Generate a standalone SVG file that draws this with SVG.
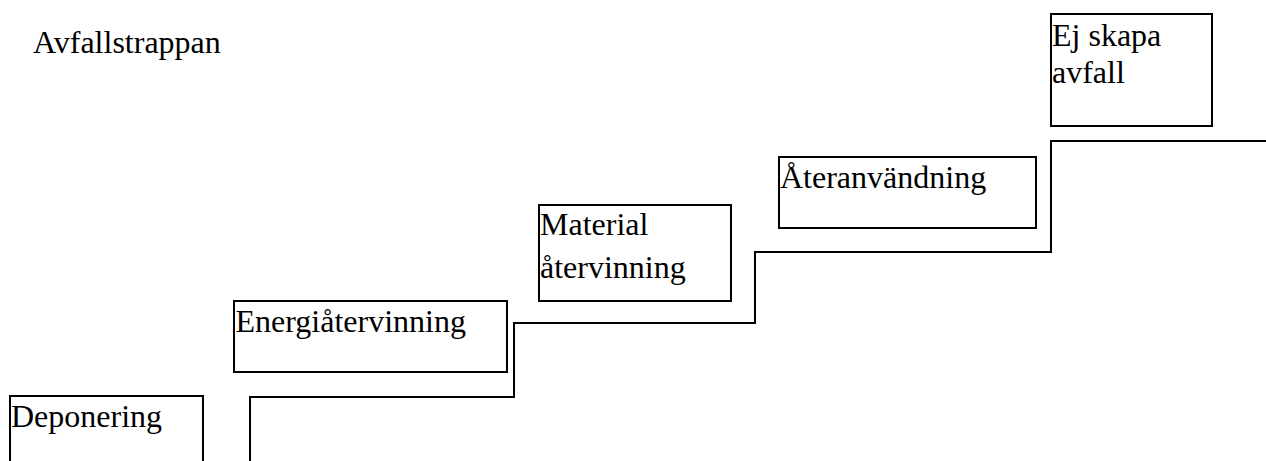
<svg xmlns="http://www.w3.org/2000/svg" width="1266" height="461" viewBox="0 0 1266 461">
<style>
.box{fill:#fff;stroke:#000;stroke-width:2}
.lbl{font-family:'Liberation Serif','Times New Roman',Tinos,'DejaVu Serif',serif;font-size:32px;fill:#000}
.stair{fill:none;stroke:#000;stroke-width:2}
</style>
<rect width="1266" height="461" fill="#fff"/>
<text class="lbl" x="33" y="53" font-family="Liberation Serif, serif">Avfallstrappan</text>
<g id="connectors">
<path class="stair" d="M250,461 V397 H514 V323 H755 V252 H1051 V141 H1266"/>
</g>
<g id="deponering">
<rect class="box" x="10" y="396" width="193" height="80"/>
<text class="lbl" x="11" y="427">Deponering</text>
</g>
<g id="energiatervinning">
<rect class="box" x="234" y="301" width="273" height="71"/>
<text class="lbl" x="235.5" y="332">Energiåtervinning</text>
</g>
<g id="materialatervinning">
<rect class="box" x="539" y="205" width="192" height="96"/>
<text class="lbl" x="540" y="235">Material</text>
<text class="lbl" x="540" y="278">återvinning</text>
</g>
<g id="ateranvandning">
<rect class="box" x="779" y="157" width="257" height="71"/>
<text class="lbl" x="780" y="188">Återanvändning</text>
</g>
<g id="ej-skapa-avfall">
<rect class="box" x="1051" y="14" width="161" height="112"/>
<text class="lbl" x="1052" y="46">Ej skapa</text>
<text class="lbl" x="1052" y="83">avfall</text>
</g>
</svg>
